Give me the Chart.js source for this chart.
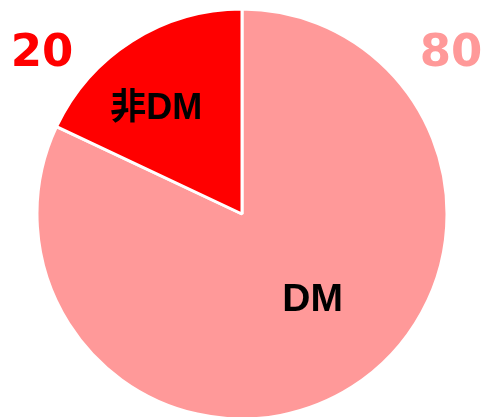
<!DOCTYPE html>
<html>
<head>
<meta charset="utf-8">
<script src="https://cdn.jsdelivr.net/npm/chart.js@4"></script>
<style>
  html, body { margin: 0; padding: 0; background: #fff; }
  #box { width: 484px; height: 417px; }
</style>
</head>
<body>
<div id="box"><canvas id="grafico" width="484" height="417"></canvas></div>
<script>
// dados do gráfico
const categorias = ['DM', '非DM'];
const valores = [82, 18];          // tamanho das fatias
const valoresTexto = ['80', '20']; // números mostrados nos cantos
const cores = ['#FF9999', '#FF0000'];

// onde cada rótulo fica dentro da fatia (fração do raio, desvio em graus)
const fracRotulo = [0.543, 0.66];
const desvioRotulo = -7;
const fonteRotulo = [39, 36];
// números nos cantos
const posCanto = [[451, 54], [42, 54]];

const rotulos = {
  id: 'rotulos',
  afterDatasetsDraw(chart) {
    const ctx = chart.ctx;
    const meta = chart.getDatasetMeta(0);
    ctx.save();
    ctx.textAlign = 'center';
    ctx.textBaseline = 'middle';
    meta.data.forEach((arc, i) => {
      const p = arc.getProps(['x', 'y', 'startAngle', 'endAngle', 'outerRadius'], true);
      const meio = (p.startAngle + p.endAngle) / 2 + desvioRotulo * Math.PI / 180;
      const r = p.outerRadius * fracRotulo[i];
      ctx.fillStyle = '#000';
      ctx.font = 'bold ' + fonteRotulo[i] + 'px "Liberation Sans", "Noto Sans CJK JP", sans-serif';
      ctx.fillText(categorias[i], p.x + Math.cos(meio) * r, p.y + Math.sin(meio) * r);

      ctx.fillStyle = cores[i];
      ctx.font = 'bold 45px "DejaVu Sans", sans-serif';
      ctx.fillText(valoresTexto[i], posCanto[i][0], posCanto[i][1]);
    });
    ctx.restore();
  }
};

new Chart(document.getElementById('grafico'), {
  type: 'pie',
  data: {
    labels: categorias,
    datasets: [{
      data: valores,
      backgroundColor: cores,
      borderColor: '#fff',
      borderWidth: 3
    }]
  },
  options: {
    responsive: false,
    animation: false,
    radius: 205,
    layout: { padding: { top: 11, bottom: 0, left: 0, right: 0 } },
    plugins: {
      legend: { display: false },
      tooltip: { enabled: false }
    }
  },
  plugins: [rotulos]
});
</script>
</body>
</html>
